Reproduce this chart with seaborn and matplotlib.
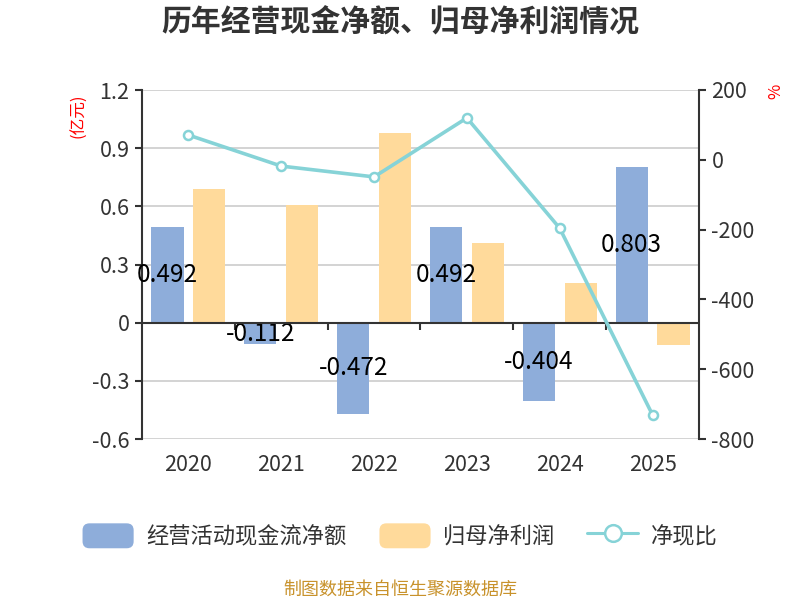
import numpy as np
import pandas as pd
import seaborn as sns
import matplotlib.pyplot as plt
from matplotlib.patches import FancyBboxPatch, Patch
from matplotlib.lines import Line2D
from matplotlib.legend_handler import HandlerPatch

# --- data
years = ["2020", "2021", "2022", "2023", "2024", "2025"]
cash_flow = [0.492, -0.112, -0.472, 0.492, -0.404, 0.803]   # 经营活动现金流净额 (亿元)
net_profit = [0.69, 0.608, 0.98, 0.412, 0.206, -0.113]      # 归母净利润 (亿元)
ratio = [71, -18, -49, 120, -196, -731]                     # 净现比 (%)
series_names = ["经营活动现金流净额", "归母净利润", "净现比"]

# --- colors
blue = "#8EADDA"
orange = "#FFDA9B"
teal = "#86D3D7"
dark = "#333333"

sns.set_theme(style="ticks")
plt.rcParams['font.family'] = ['Noto Sans CJK SC', 'DejaVu Sans']
plt.rcParams['axes.unicode_minus'] = False

df = pd.DataFrame({
    "year": years * 2,
    "value": cash_flow + net_profit,
    "series": [series_names[0]] * len(years) + [series_names[1]] * len(years),
})

fig = plt.figure(figsize=(8, 6), dpi=100)
ax = fig.add_axes([0.1775, 0.2683, 0.6962, 0.5817])

sns.barplot(data=df, x="year", y="value", hue="series", palette=[blue, orange],
            width=0.9, gap=0.23, saturation=1, errorbar=None, legend=False,
            linewidth=0, ax=ax)
ax.bar_label(ax.containers[0], labels=[f"{v:g}" for v in cash_flow],
             label_type="center", fontsize=17.5, color="black")

ax.set_ylim(-0.6, 1.2)
yt = np.arange(-0.6, 1.21, 0.3)
ax.set_yticks(yt, labels=[f"{round(v, 1) + 0.0:g}" for v in yt])
ax.set_xlabel("")
ax.set_ylabel("")
ax.set_axisbelow(True)
ax.yaxis.grid(True, color="#cccccc", lw=1.2)
ax.axhline(0, color=dark, lw=1.5, zorder=3)
for s in ["top", "right", "bottom"]:
    ax.spines[s].set_visible(False)
ax.spines["left"].set_color(dark)
ax.spines["left"].set_linewidth(1.5)
ax.tick_params(axis="y", left=True, length=5, width=1.5, color=dark,
               labelsize=15.5, labelcolor=dark, pad=4)
ax.tick_params(axis="x", bottom=False, length=0, labelsize=15.5, labelcolor=dark, pad=11)

# tick marks between categories on the zero line
zero_frac = (0 - (-0.6)) / (1.2 - (-0.6))
sec = ax.secondary_xaxis(zero_frac)
sec.set_xticks(np.arange(len(years) - 1) + 0.5, labels=[])
sec.tick_params(length=5, width=1.5, color=dark)
for s in sec.spines.values():
    s.set_visible(False)

# --- ratio line on the right axis
ax2 = ax.twinx()
sns.pointplot(x=years, y=ratio, ax=ax2, color=teal, markers="o", linestyles="-",
              linewidth=2.6, markersize=6.5, markerfacecolor="white", markeredgewidth=1.8)
ax2.set_ylim(-800, 200)
ax2.set_yticks(np.arange(-800, 201, 200))
ax2.grid(False)
ax2.set_ylabel("")
for s in ["top", "left", "bottom"]:
    ax2.spines[s].set_visible(False)
ax2.spines["right"].set_visible(True)
ax2.spines["right"].set_color(dark)
ax2.spines["right"].set_linewidth(1.5)
ax2.tick_params(axis="y", right=True, length=5, width=1.5, color=dark,
                labelsize=15.5, labelcolor=dark, pad=4)

# --- texts
fig.text(0.5, 0.963, "历年经营现金净额、归母净利润情况", ha="center", va="center",
         fontsize=21.5, fontweight="bold", color=dark)
fig.text(0.099, 0.807, "(亿元)", rotation=90, ha="center", va="center", color="red", fontsize=12)
fig.text(0.97, 0.848, "%", rotation=90, ha="center", va="center", color="red", fontsize=12)
fig.text(0.5, 0.017, "制图数据来自恒生聚源数据库", ha="center", va="center",
         fontsize=13, color="#C8922B")


# rounded legend patches
class RoundHandler(HandlerPatch):
    def create_artists(self, legend, orig_handle, xdescent, ydescent, width, height, fontsize, trans):
        p = FancyBboxPatch((-xdescent, -ydescent), width, height,
                           boxstyle="round,pad=0,rounding_size=5",
                           facecolor=orig_handle.get_facecolor(), edgecolor="none", transform=trans)
        return [p]


handles = [
    Patch(facecolor=blue),
    Patch(facecolor=orange),
    Line2D([], [], color=teal, lw=2.2, marker="o", markersize=12,
           markerfacecolor="white", markeredgewidth=1.8),
]
fig.legend(handles, series_names, loc="center", bbox_to_anchor=(0.5, 0.107), ncol=3,
           frameon=False, fontsize=16, handlelength=2.3, handleheight=1.35,
           columnspacing=1.5, handletextpad=0.55, labelcolor=dark,
           handler_map={Patch: RoundHandler()})

fig.savefig("out.png", dpi=100)
